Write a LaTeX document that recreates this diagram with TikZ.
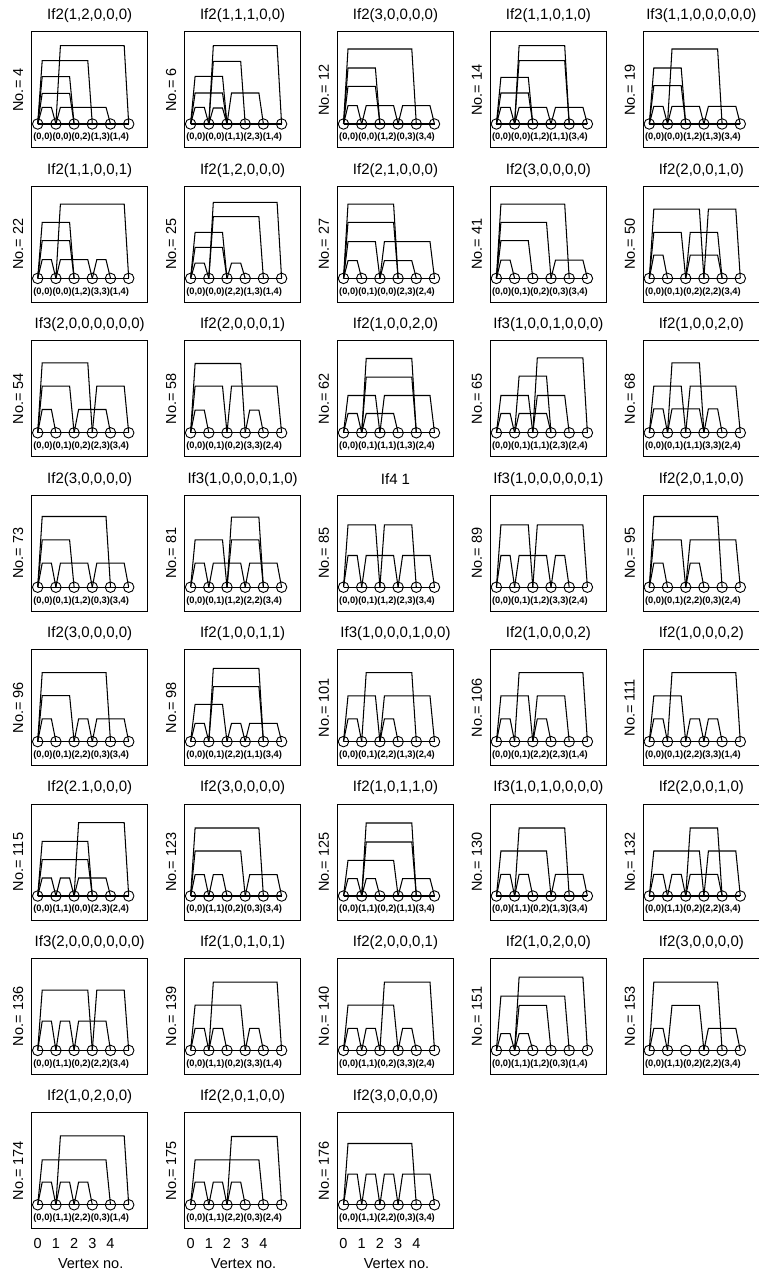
\documentclass[tikz,border=0pt]{standalone}
\usepackage{fontspec}
\setmainfont{Liberation Sans}
\usetikzlibrary{calc}
\tikzset{
 boxline/.style={line width=1pt},
 arcline/.style={line width=1.05pt, line join=miter},
 vtx/.style={circle, draw, line width=0.9pt, minimum size=10.5pt, inner sep=0pt},
 ptitle/.style={font=\fontsize{15}{17}\selectfont, inner sep=0pt},
 nolabel/.style={font=\fontsize{14.5}{16}\selectfont, rotate=90, inner sep=0pt},
 pairs/.style={font=\bfseries\fontsize{9.3}{11}\selectfont, anchor=west, inner sep=0pt},
 axlabel/.style={font=\fontsize{14.5}{16}\selectfont, inner sep=0pt},
}
\newcommand{\drawpanel}[6]{%
\begin{scope}[shift={({31.7+152.9*#1},{32+154.4*#2})}]
 \draw[boxline] (0,0) rectangle (116,116);
 \node[ptitle] (t#4) at (58,-16) {#3};
 \node[nolabel] (no#4) at (-13.5,58) {No.= #4};
 \foreach \i in {0,...,5} {\node[vtx] (p#4c\i) at ({6+18.2*\i},92) {};}
 \draw[arcline] (p#4c0.center) -- (p#4c5.center);
 \node[pairs] (l#4) at (1.5,105.5) {#5};
 \foreach \a/\b/\h in {#6} {\draw[arcline] (p#4c\a.center) -- ++(4.5,-\h) -- ($(p#4c\b.center)+(-4.5,-\h)$) -- (p#4c\b.center);}
\end{scope}}
\newcommand{\vertexaxis}[1]{%
\begin{scope}[shift={({31.7+152.9*#1},{32+154.4*7})}]
 \foreach \i in {0,...,4} {\node[axlabel] (ax#1d\i) at ({6+18.2*\i},131) {\i};}
 \node[axlabel] (ax#1t) at (59,151) {Vertex no.};
\end{scope}}
\begin{document}
\begin{tikzpicture}[x=1pt,y=-1pt]
\useasboundingbox (0,0) rectangle (759,1273);
% row 1
\drawpanel{0}{0}{If2(1,2,0,0,0)}{4}{(0,0)(0,0)(0,2)(1,3)(1,4)}{0/1/16.7,1/4/16.7,0/2/30.7,0/2/47.3,0/3/63.3,1/5/78.3}
\drawpanel{1}{0}{If2(1,1,1,0,0)}{6}{(0,0)(0,0)(1,1)(2,3)(1,4)}{0/1/16.7,1/2/16,0/2/31,2/4/31,0/2/47.7,1/3/62.7,1/5/78.3}
\drawpanel{2}{0}{If2(3,0,0,0,0)}{12}{(0,0)(0,0)(1,2)(0,3)(3,4)}{0/1/18.3,1/3/18.3,3/5/18.3,0/2/37.7,0/2/56,0/4/75}
\drawpanel{3}{0}{If2(1,1,0,1,0)}{14}{(0,0)(0,0)(1,2)(1,1)(3,4)}{0/1/16.7,1/3/16.7,3/5/16.7,0/2/31,0/2/46.7,1/4/63.3,1/4/78.3}
\drawpanel{4}{0}{If3(1,1,0,0,0,0,0)}{19}{(0,0)(0,0)(1,2)(1,3)(3,4)}{0/1/17.7,1/3/17.7,3/5/17.7,0/2/38.3,0/2/56,1/4/75}
% row 2
\drawpanel{0}{1}{If2(1,1,0,0,1)}{22}{(0,0)(0,0)(1,2)(3,3)(1,4)}{0/1/18.7,1/3/18.7,3/4/18.7,0/2/37.7,0/2/56,1/5/74.3}
\drawpanel{1}{1}{If2(1,2,0,0,0)}{25}{(0,0)(0,0)(2,2)(1,3)(1,4)}{0/1/15.3,2/3/15.3,0/2/31,0/2/46,1/4/61.7,1/5/76}
\drawpanel{2}{1}{If2(2,1,0,0,0)}{27}{(0,0)(0,1)(0,0)(2,3)(2,4)}{0/1/17.7,2/4/17.7,0/2/36.7,2/5/36.7,0/3/56,0/3/74.3}
\drawpanel{3}{1}{If2(3,0,0,0,0)}{41}{(0,0)(0,1)(0,2)(0,3)(3,4)}{0/1/18.3,3/5/18.3,0/2/37.7,0/3/56,0/4/74.3}
\drawpanel{4}{1}{If2(2,0,0,1,0)}{50}{(0,0)(0,1)(0,2)(2,2)(3,4)}{0/1/23.3,2/4/23.3,0/2/46,2/4/46,0/3/69.3,3/5/69.3}
% row 3
\drawpanel{0}{2}{If3(2,0,0,0,0,0,0)}{54}{(0,0)(0,1)(0,2)(2,3)(3,4)}{0/1/23.3,2/4/23.3,0/2/46.7,3/5/46.7,0/3/70}
\drawpanel{1}{2}{If2(2,0,0,0,1)}{58}{(0,0)(0,1)(0,2)(3,3)(2,4)}{0/1/22.7,3/4/22.7,0/2/46.7,2/5/46.7,0/3/69.3}
\drawpanel{2}{2}{If2(1,0,0,2,0)}{62}{(0,0)(0,1)(1,1)(1,3)(2,4)}{0/1/19.3,1/3/19.3,0/2/37.3,2/5/37.3,1/4/55.7,1/4/74.3}
\drawpanel{3}{2}{If3(1,0,0,1,0,0,0)}{65}{(0,0)(0,1)(1,1)(2,3)(2,4)}{0/1/19.3,1/3/19.3,0/2/37.3,2/4/37.3,1/3/56.7,2/5/75}
\drawpanel{4}{2}{If2(1,0,0,2,0)}{68}{(0,0)(0,1)(1,1)(3,3)(2,4)}{0/1/24,1/3/24,3/4/24,0/2/46.7,2/5/46.7,1/3/70}
% row 4
\drawpanel{0}{3}{If2(3,0,0,0,0)}{73}{(0,0)(0,1)(1,2)(0,3)(3,4)}{0/1/24,1/3/24,3/5/24,0/2/47.3,0/4/70.7}
\drawpanel{1}{3}{If3(1,0,0,0,0,1,0)}{81}{(0,0)(0,1)(1,2)(2,2)(3,4)}{0/1/24,1/3/24,3/5/24,0/2/47.3,2/4/47.3,2/4/70}
\drawpanel{2}{3}{If4 1}{85}{(0,0)(0,1)(1,2)(2,3)(3,4)}{0/1/31.7,1/3/31.7,3/5/31.7,0/2/62.3,2/4/62.3}
\drawpanel{3}{3}{If3(1,0,0,0,0,0,1)}{89}{(0,0)(0,1)(1,2)(3,3)(2,4)}{0/1/31.7,1/3/31.7,3/4/31.7,0/2/62.3,2/5/62.3}
\drawpanel{4}{3}{If2(2,0,1,0,0)}{95}{(0,0)(0,1)(2,2)(0,3)(2,4)}{0/1/24,2/3/24,0/2/47.3,2/5/47.3,0/4/70.7}
% row 5
\drawpanel{0}{4}{If2(3,0,0,0,0)}{96}{(0,0)(0,1)(2,2)(0,3)(3,4)}{0/1/22.7,2/3/22.7,3/5/22.7,0/2/46,0/4/69}
\drawpanel{1}{4}{If2(1,0,0,1,1)}{98}{(0,0)(0,1)(2,2)(1,1)(3,4)}{0/1/18.3,2/3/18.3,3/5/18.3,0/2/37.3,1/4/55,1/4/73.3}
\drawpanel{2}{4}{If3(1,0,0,0,1,0,0)}{101}{(0,0)(0,1)(2,2)(1,3)(2,4)}{0/1/22.7,2/3/22.7,0/2/45.7,2/5/45.7,1/4/69}
\drawpanel{3}{4}{If2(1,0,0,0,2)}{106}{(0,0)(0,1)(2,2)(2,3)(1,4)}{0/1/22.7,2/3/22.7,0/2/45.7,2/4/45.7,1/5/69}
\drawpanel{4}{4}{If2(1,0,0,0,2)}{111}{(0,0)(0,1)(2,2)(3,3)(1,4)}{0/1/22.7,2/3/22.7,3/4/22.7,0/2/45.7,1/5/69}
% row 6
\drawpanel{0}{5}{If2(2.1,0,0,0)}{115}{(0,0)(1,1)(0,0)(2,3)(2,4)}{0/1/18,1/2/18,2/4/18,0/3/36.3,0/3/54.7,2/5/73.3}
\drawpanel{1}{5}{If2(3,0,0,0,0)}{123}{(0,0)(1,1)(0,2)(0,3)(3,4)}{0/1/21.3,1/2/21.3,3/5/21.3,0/3/45,0/4/68}
\drawpanel{2}{5}{If2(1,0,1,1,0)}{125}{(0,0)(1,1)(0,2)(1,1)(3,4)}{0/1/17.3,1/2/17.3,3/5/17.3,0/3/35.7,1/4/54,1/4/73}
\drawpanel{3}{5}{If3(1,0,1,0,0,0,0)}{130}{(0,0)(1,1)(0,2)(1,3)(3,4)}{0/1/21.7,1/2/21.7,3/5/21.7,0/3/45,1/4/68}
\drawpanel{4}{5}{If2(2,0,0,1,0)}{132}{(0,0)(1,1)(0,2)(2,2)(3,4)}{0/1/21.7,1/2/21.7,2/4/21.7,0/3/45,3/5/45,2/4/68}
% row 7
\drawpanel{0}{6}{If3(2,0,0,0,0,0,0)}{136}{(0,0)(1,1)(0,2)(2,2)(3,4)}{0/1/29.3,1/2/29.3,2/4/29.3,0/3/60.3,3/5/60.3}
\drawpanel{1}{6}{If2(1,0,1,0,1)}{139}{(0,0)(1,1)(0,2)(3,3)(1,4)}{0/1/22,1/2/22,3/4/22,0/3/45.3,1/5/68.3}
\drawpanel{2}{6}{If2(2,0,0,0,1)}{140}{(0,0)(1,1)(0,2)(3,3)(2,4)}{0/1/22,1/2/22,3/4/22,0/3/45.3,2/5/68.3}
\drawpanel{3}{6}{If2(1,0,2,0,0)}{151}{(0,0)(1,1)(1,2)(0,3)(1,4)}{0/1/16.7,1/2/16.7,1/3/45,0/4/54.3,1/5/73.3}
\drawpanel{4}{6}{If2(3,0,0,0,0)}{153}{(0,0)(1,1)(0,2)(2,2)(3,4)}{0/1/22,3/5/22,1/3/45,0/4/68.3}
% row 8
\drawpanel{0}{7}{If2(1,0,2,0,0)}{174}{(0,0)(1,1)(2,2)(0,3)(1,4)}{0/1/22.7,1/2/22.7,2/3/22.7,0/4/45,1/5/69}
\drawpanel{1}{7}{If2(2,0,1,0,0)}{175}{(0,0)(1,1)(2,2)(0,3)(2,4)}{0/1/22.7,1/2/22.7,2/3/22.7,0/4/45,2/5/68.3}
\drawpanel{2}{7}{If2(3,0,0,0,0)}{176}{(0,0)(1,1)(2,2)(0,3)(3,4)}{0/1/30.7,1/2/30.7,2/3/30.7,3/5/30.7,0/4/61.3}
\vertexaxis{0}
\vertexaxis{1}
\vertexaxis{2}
\end{tikzpicture}
\end{document}
